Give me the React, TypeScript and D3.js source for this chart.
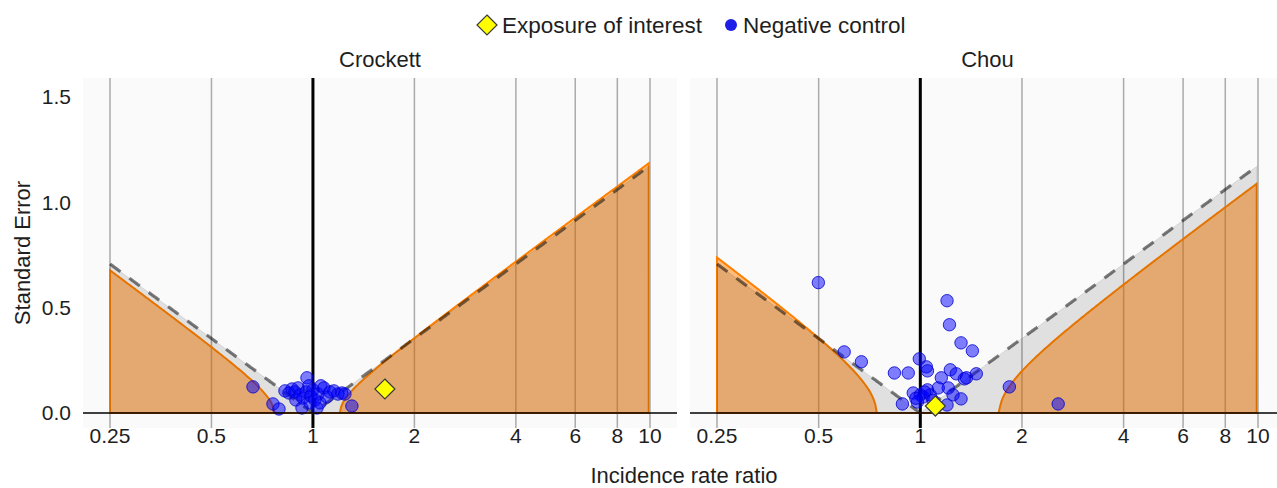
import React from "react";
import * as d3 from "d3";

// ---------- data ----------
const xBreaks = [0.25, 0.5, 1, 2, 4, 6, 8, 10];
const xBreakLabels = ["0.25", "0.5", "1", "2", "4", "6", "8", "10"];
const yBreaks = [0, 0.5, 1, 1.5];
const yBreakLabels = ["0.0", "0.5", "1.0", "1.5"];

const panelTitles = ["Crockett", "Chou"];
// fitted empirical null distribution (mean, sd of log RR)
const nullMeans = [-0.04, 0.12];
const nullSds = [0.115, 0.214];

const crockettRR = [0.664, 0.761, 0.793, 0.826, 0.849, 0.867, 0.884, 0.89, 0.903, 0.915, 0.928, 0.934, 0.953, 0.96, 0.973, 0.98, 0.986, 1.0, 1.014, 1.028, 1.035, 1.049, 1.056, 1.078, 1.1, 1.123, 1.154, 1.186, 1.219, 1.244, 1.305];
const crockettSE = [0.124, 0.043, 0.019, 0.105, 0.095, 0.114, 0.1, 0.062, 0.119, 0.086, 0.024, 0.071, 0.1, 0.167, 0.129, 0.048, 0.081, 0.11, 0.062, 0.024, 0.09, 0.048, 0.129, 0.119, 0.076, 0.1, 0.105, 0.09, 0.095, 0.09, 0.033];

const chouRR = [0.499, 1.2, 1.22, 1.32, 1.426, 0.595, 0.669, 0.838, 0.921, 0.993, 1.042, 1.05, 1.227, 1.278, 1.35, 1.37, 1.465, 1.154, 1.21, 0.953, 1.0, 1.05, 1.02, 1.07, 1.13, 1.25, 1.32, 0.885, 0.98, 1.2, 1.835, 2.56, 1.03, 0.97, 1.09];
const chouSE = [0.619, 0.533, 0.419, 0.333, 0.295, 0.29, 0.243, 0.19, 0.19, 0.257, 0.219, 0.2, 0.205, 0.186, 0.162, 0.167, 0.186, 0.167, 0.119, 0.095, 0.086, 0.11, 0.076, 0.086, 0.119, 0.086, 0.067, 0.043, 0.052, 0.038, 0.124, 0.043, 0.1, 0.07, 0.06];

const exposureRR = [1.635, 1.108];
const exposureSE = [0.114, 0.033];

const controlsRR = [crockettRR, chouRR];
const controlsSE = [crockettSE, chouSE];

// ---------- layout ----------
const W = 1277;
const H = 488;
const FONT = "'Liberation Sans', Arial, Helvetica, sans-serif";
const TXT = "#1e1e1e";
const panelX = [
  { left: 83, right: 677, r0: 110, r1: 650 },
  { left: 690, right: 1285, r0: 717, r1: 1258 },
];
const panelTop = 78;
const panelBottom = 428;

const yScale = d3.scaleLinear().domain([0, 1.5]).range([413, 97]);

// curve evaluation grid (log scale, as in EmpiricalCalibration)
const logGrid = d3.range(Math.log(0.25), Math.log(10) + 1e-9, 0.01);
const z = 1.959964;

function calibratedSE(logRr: number, mu: number, sigma: number) {
  const phi = (mu - logRr) ** 2 / (z * z) - sigma * sigma;
  return phi > 0 ? Math.sqrt(phi) : 0;
}

function Panel({ i }: { i: number }) {
  const p = panelX[i];
  const x = d3.scaleLog().domain([0.25, 10]).range([p.r0, p.r1]);
  const mu = nullMeans[i];
  const sigma = nullSds[i];
  const pts = logGrid.map((l) => ({
    x: Math.exp(l),
    cal: calibratedSE(l, mu, sigma),
    theo: Math.abs(l) / z,
  }));
  const areaCal = d3
    .area<any>()
    .x((d) => x(d.x))
    .y0(yScale(0))
    .y1((d) => yScale(d.cal))(pts);
  const areaTheo = d3
    .area<any>()
    .x((d) => x(d.x))
    .y0(yScale(0))
    .y1((d) => yScale(d.theo))(pts);
  const lineTheo = d3
    .line<any>()
    .x((d) => x(d.x))
    .y((d) => yScale(d.theo))(pts);
  const clipId = `clip${i}`;
  const rr = controlsRR[i];
  const se = controlsSE[i];
  const ex = x(exposureRR[i]);
  const ey = yScale(exposureSE[i]);
  const dm = 10;
  return (
    <g>
      <defs>
        <clipPath id={clipId}>
          <rect x={p.left} y={panelTop} width={p.right - p.left} height={panelBottom - panelTop} />
        </clipPath>
      </defs>
      <rect x={p.left} y={panelTop} width={p.right - p.left} height={panelBottom - panelTop} fill="#FAFAFB" />
      <g clipPath={`url(#${clipId})`}>
        {xBreaks.map((b) => (
          <line key={b} x1={x(b)} x2={x(b)} y1={panelTop} y2={panelBottom} stroke="#AAAAAA" strokeWidth={1.5} />
        ))}
        <line x1={x(1)} x2={x(1)} y1={panelTop} y2={panelBottom} stroke="#000" strokeWidth={3} />
        <path d={areaCal || ""} fill="rgba(255,128,0,0.5)" stroke="rgb(255,128,0)" strokeWidth={2} />
        <path d={areaTheo || ""} fill="rgba(0,0,0,0.1)" stroke="rgba(0,0,0,0.1)" strokeWidth={1} />
        <path d={lineTheo || ""} fill="none" stroke="rgba(0,0,0,0.5)" strokeWidth={3.2} strokeDasharray="13 11" />
        {rr.map((v, k) => (
          <circle key={k} cx={x(v)} cy={yScale(se[k])} r={6.2} fill="rgba(0,0,255,0.5)" stroke="rgb(0,0,204)" strokeWidth={0.8} />
        ))}
        <line x1={p.left} x2={p.right} y1={yScale(0)} y2={yScale(0)} stroke="#000" strokeWidth={1.6} />
        <path
          d={`M${ex},${ey - dm}L${ex + dm},${ey}L${ex},${ey + dm}L${ex - dm},${ey}Z`}
          fill="#FFFF00"
          stroke="#3a3a3a"
          strokeWidth={1.2}
        />
      </g>
      <text x={(p.left + p.right) / 2} y={59} dy="0.35em" textAnchor="middle" fontFamily={FONT} fontSize={22} fill={TXT}>
        {panelTitles[i]}
      </text>
      {xBreaks.map((b, k) => (
        <text key={b} x={x(b)} y={436} dy="0.35em" textAnchor="middle" fontFamily={FONT} fontSize={21} fill={TXT}>
          {xBreakLabels[k]}
        </text>
      ))}
    </g>
  );
}

export default function App() {
  return (
    <svg width={W} height={H} style={{ position: "absolute", left: 0, top: 0, background: "#fff" }}>
      <rect x={0} y={0} width={W} height={H} fill="#fff" />
      {/* legend */}
      <path d="M487,15L497,25L487,35L477,25Z" fill="#FFFF00" stroke="#3a3a3a" strokeWidth={1.2} />
      <text x={502} y={25} dy="0.35em" fontFamily={FONT} fontSize={22.5} fill={TXT}>
        Exposure of interest
      </text>
      <circle cx={731} cy={25} r={6} fill="rgb(30,30,230)" />
      <text x={743} y={25} dy="0.35em" fontFamily={FONT} fontSize={22.5} fill={TXT}>
        Negative control
      </text>
      {panelTitles.map((t, i) => (
        <Panel key={t} i={i} />
      ))}
      {yBreaks.map((b, k) => (
        <text key={b} x={71} y={yScale(b)} dy="0.35em" textAnchor="end" fontFamily={FONT} fontSize={21} fill={TXT}>
          {yBreakLabels[k]}
        </text>
      ))}
      <text
        transform={`translate(22,${(panelTop + panelBottom) / 2}) rotate(-90)`}
        textAnchor="middle"
        dy="0.35em"
        fontFamily={FONT}
        fontSize={22}
        fill={TXT}
      >
        Standard Error
      </text>
      <text x={684} y={475} dy="0.35em" textAnchor="middle" fontFamily={FONT} fontSize={22} fill={TXT}>
        Incidence rate ratio
      </text>
    </svg>
  );
}
